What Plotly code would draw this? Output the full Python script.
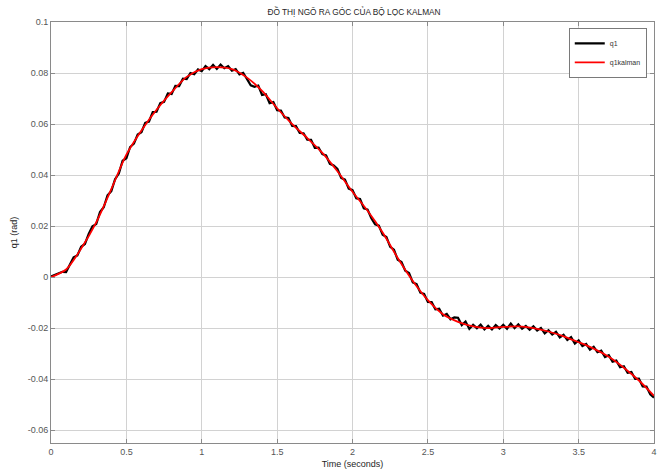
import plotly.graph_objects as go

# ---- data ----
title_text = "ĐỒ THỊ NGÕ RA GÓC CỦA BỘ LỌC KALMAN"
x_label = "Time (seconds)"
y_label = "q1 (rad)"

q1_t0, q1_dt = 0.0, 0.025
q1 = [
    0.0003, 0.0009, 0.0016, 0.0021, 0.0020, 0.0048, 0.0078, 0.0085, 0.0119, 0.0130,
    0.0169, 0.0199, 0.0208, 0.0255, 0.0274, 0.0321, 0.0337, 0.0384, 0.0406, 0.0456,
    0.0466, 0.0510, 0.0523, 0.0559, 0.0568, 0.0605, 0.0610, 0.0647, 0.0648, 0.0682,
    0.0687, 0.0720, 0.0718, 0.0750, 0.0749, 0.0778, 0.0776, 0.0800, 0.0795, 0.0814,
    0.0807, 0.0827, 0.0815, 0.0832, 0.0816, 0.0833, 0.0819, 0.0827, 0.0809, 0.0815,
    0.0795, 0.0801, 0.0774, 0.0752, 0.0746, 0.0751, 0.0714, 0.0717, 0.0682, 0.0686,
    0.0654, 0.0653, 0.0626, 0.0624, 0.0593, 0.0592, 0.0565, 0.0564, 0.0539, 0.0538,
    0.0507, 0.0508, 0.0482, 0.0477, 0.0444, 0.0438, 0.0424, 0.0389, 0.0382, 0.0347,
    0.0341, 0.0309, 0.0306, 0.0270, 0.0265, 0.0231, 0.0207, 0.0202, 0.0166, 0.0157,
    0.0119, 0.0108, 0.0068, 0.0059, 0.0025, 0.0016, -0.0021, -0.0027, -0.0061, -0.0066,
    -0.0097, -0.0098, -0.0126, -0.0124, -0.0151, -0.0144, -0.0165, -0.0158, -0.0159, -0.0188,
    -0.0174, -0.0203, -0.0187, -0.0200, -0.0186, -0.0205, -0.0191, -0.0205, -0.0188, -0.0201,
    -0.0187, -0.0202, -0.0182, -0.0200, -0.0185, -0.0202, -0.0191, -0.0206, -0.0193, -0.0209,
    -0.0199, -0.0220, -0.0208, -0.0225, -0.0214, -0.0236, -0.0226, -0.0246, -0.0235, -0.0260,
    -0.0248, -0.0270, -0.0262, -0.0284, -0.0273, -0.0294, -0.0288, -0.0313, -0.0306, -0.0331,
    -0.0327, -0.0353, -0.0349, -0.0375, -0.0372, -0.0399, -0.0398, -0.0428, -0.0429, -0.0459,
    -0.0472,
]

kal_t0, kal_dt = 0.0, 0.1
q1kalman = [
    0.0000, 0.0030, 0.0112, 0.0215, 0.0345, 0.0480, 0.0575, 0.0656, 0.0725, 0.0785,
    0.0815, 0.0823, 0.0815, 0.0782, 0.0730, 0.0662, 0.0600, 0.0545, 0.0487, 0.0415,
    0.0335, 0.0260, 0.0175, 0.0075, -0.0015, -0.0090, -0.0145, -0.0175, -0.0193, -0.0200,
    -0.0195, -0.0193, -0.0200, -0.0213, -0.0232, -0.0255, -0.0280, -0.0312, -0.0355, -0.0405,
    -0.0465,
]

x_ticks = [0, 0.5, 1, 1.5, 2, 2.5, 3, 3.5, 4]
x_tick_text = ["0", "0.5", "1", "1.5", "2", "2.5", "3", "3.5", "4"]
y_ticks = [0.1, 0.08, 0.06, 0.04, 0.02, 0, -0.02, -0.04, -0.06]
y_tick_text = ["0.1", "0.08", "0.06", "0.04", "0.02", "0", "-0.02", "-0.04", "-0.06"]

# ---- figure ----
fig = go.Figure()
fig.add_trace(go.Scatter(y=q1, x0=q1_t0, dx=q1_dt, mode="lines", name="q1",
                         line=dict(color="black", width=2.2)))
fig.add_trace(go.Scatter(y=q1kalman, x0=kal_t0, dx=kal_dt, mode="lines", name="q1kalman",
                         line=dict(color="#ff0000", width=1.8, shape="spline", smoothing=0.8)))

axis_color = "#8a8a8a"
grid_color = "#d2d2d2"
fam = "Liberation Sans, Arial, sans-serif"
font = dict(family=fam, size=9, color="#555555")

fig.update_layout(
    width=663, height=473,
    margin=dict(l=51, r=6, t=22, b=29),
    paper_bgcolor="white", plot_bgcolor="white",
    font=font,
    title=dict(text=title_text, x=(51 + 657) / 2 / 663, xanchor="center",
               y=1 - 12 / 473, yanchor="middle",
               font=dict(family=fam, size=8.3, color="#262626")),
    showlegend=True,
    legend=dict(x=0.988, y=0.986, xanchor="right", yanchor="top",
                bgcolor="white", bordercolor="#7a7a7a", borderwidth=1,
                font=dict(family=fam, size=7, color="#333333"),
                tracegroupgap=0, itemwidth=30),
)
fig.update_xaxes(range=[0, 4], tickvals=x_ticks, ticktext=x_tick_text,
                 showline=True, linecolor=axis_color, linewidth=1, mirror="ticks",
                 ticks="inside", ticklen=4, tickcolor=axis_color,
                 showgrid=True, gridcolor=grid_color, gridwidth=1, zeroline=False,
                 title=dict(text=x_label, standoff=4,
                            font=dict(family=fam, size=9, color="#262626")))
fig.update_yaxes(range=[-0.065, 0.1], tickvals=y_ticks, ticktext=y_tick_text,
                 showline=True, linecolor=axis_color, linewidth=1, mirror="ticks",
                 ticks="inside", ticklen=4, tickcolor=axis_color,
                 showgrid=True, gridcolor=grid_color, gridwidth=1, zeroline=False,
                 title=dict(text=y_label, standoff=8,
                            font=dict(family=fam, size=9, color="#262626")))

fig.write_html("out.html")
